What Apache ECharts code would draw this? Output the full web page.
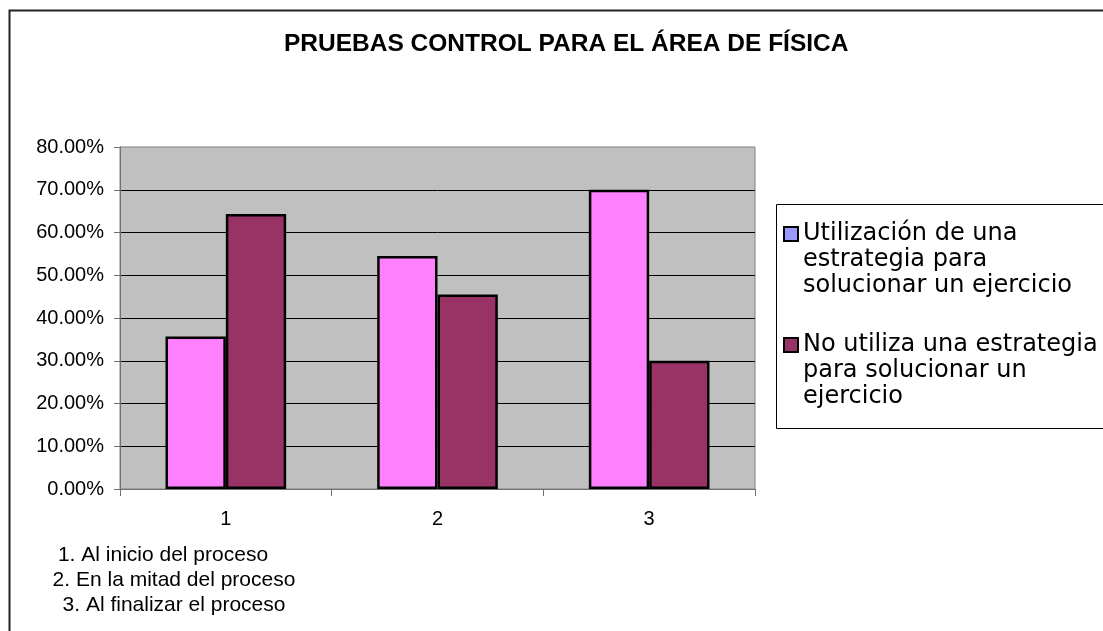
<!DOCTYPE html>
<html><head><meta charset="utf-8">
<script src="https://cdn.jsdelivr.net/npm/echarts@6/dist/echarts.min.js"></script>
<style>html,body{margin:0;padding:0;background:#fff}#c{width:1103px;height:631px}</style>
</head><body><div id="c"></div>
<script>
const titleText = 'PRUEBAS CONTROL PARA EL ÁREA DE FÍSICA';
const categories = ['1', '2', '3'];
const seriesNames = [
  'Utilización de una\nestrategia para\nsolucionar un ejercicio',
  'No utiliza una estrategia\npara solucionar un\nejercicio'
];
const usaEstrategia = [0.357, 0.545, 0.700];
const noUsaEstrategia = [0.643, 0.455, 0.300];
const footnotes = ['1. Al inicio del proceso', '2. En la mitad del proceso', '3. Al finalizar el proceso'];

const barColors = ['#FF80FF', '#993366'];
const legendColors = ['#9999FF', '#993366'];

const chart = echarts.init(document.getElementById('c'), null, {renderer: 'canvas'});
const legendText = {fontFamily: 'DejaVu Sans', fontSize: 24, color: '#000', lineHeight: 26};
function mkLegend(i, top) {
  return {
    show: true, orient: 'vertical', left: 783, top: top, padding: 0,
    itemWidth: 14, itemHeight: 14, icon: 'rect', selectedMode: false,
    formatter: name => '\n\n' + name,
    data: [{name: seriesNames[i], itemStyle: {color: legendColors[i], borderColor: '#000', borderWidth: 2}}],
    textStyle: legendText
  };
}
const option = {
  backgroundColor: '#fff',
  animation: false,
  title: {
    text: titleText, left: 279, top: 27,
    textStyle: {fontFamily: 'Liberation Sans, Arial', fontWeight: 'bold', fontSize: 24.5, color: '#000'}
  },
  legend: [mkLegend(0, 169), mkLegend(1, 280)],
  grid: {
    left: 120, top: 147, width: 635, height: 342,
    show: true, backgroundColor: '#C0C0C0', borderColor: '#808080', borderWidth: 1
  },
  xAxis: {
    type: 'category', data: categories,
    axisLine: {show: true, lineStyle: {color: '#707070', width: 1}},
    axisTick: {show: true, alignWithLabel: false, length: 7, lineStyle: {color: '#707070'}},
    axisLabel: {fontFamily: 'Liberation Sans, Arial', fontSize: 20, color: '#000', margin: 20},
    splitLine: {show: false}
  },
  yAxis: {
    type: 'value', min: 0, max: 0.8, interval: 0.1,
    axisLine: {show: true, lineStyle: {color: '#707070', width: 1}},
    axisTick: {show: true, length: 6, lineStyle: {color: '#707070'}},
    axisLabel: {fontFamily: 'Liberation Sans, Arial', fontSize: 20, color: '#000', margin: 16,
      formatter: v => (v * 100).toFixed(2) + '%'},
    splitLine: {show: true, showMinLine: false, showMaxLine: false, lineStyle: {color: '#000', width: 1}}
  },
  series: [
    {name: seriesNames[0], type: 'bar', data: usaEstrategia, barGap: '0%', barCategoryGap: '43%',
     itemStyle: {color: barColors[0], borderColor: '#000', borderWidth: 2.5}},
    {name: seriesNames[1], type: 'bar', data: noUsaEstrategia, barGap: '0%', barCategoryGap: '43%',
     itemStyle: {color: barColors[1], borderColor: '#000', borderWidth: 2.5}}
  ],
  graphic: [
    {type: 'rect', silent: true, z: -10, shape: {x: 9.5, y: 10.5, width: 1200, height: 700},
     style: {fill: 'none', stroke: '#222', lineWidth: 2}},
    {type: 'rect', silent: true, z: -10, shape: {x: 776.5, y: 204.5, width: 400, height: 224},
     style: {fill: '#fff', stroke: '#000', lineWidth: 1}},
    {type: 'text', silent: true, style: {text: footnotes[0], x: 163, y: 555, align: 'center', verticalAlign: 'middle',
      font: '21px "Liberation Sans", Arial', fill: '#000'}},
    {type: 'text', silent: true, style: {text: footnotes[1], x: 174, y: 580, align: 'center', verticalAlign: 'middle',
      font: '21px "Liberation Sans", Arial', fill: '#000'}},
    {type: 'text', silent: true, style: {text: footnotes[2], x: 174, y: 605, align: 'center', verticalAlign: 'middle',
      font: '21px "Liberation Sans", Arial', fill: '#000'}}
  ]
};
chart.setOption(option);
</script>
</body></html>
